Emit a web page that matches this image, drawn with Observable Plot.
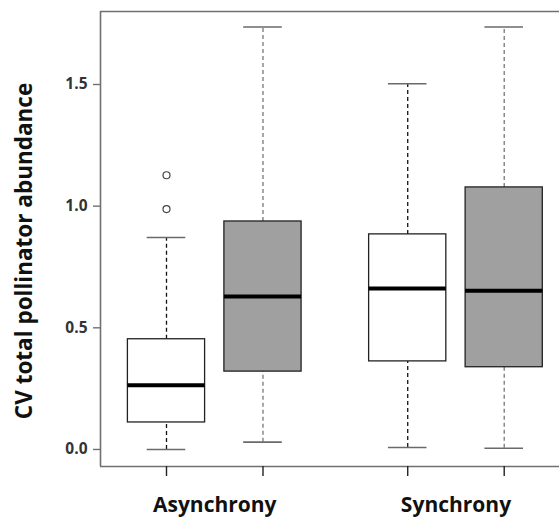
<!DOCTYPE html>
<html>
<head>
<meta charset="utf-8">
<script src="https://cdn.jsdelivr.net/npm/d3@7"></script>
<script src="https://cdn.jsdelivr.net/npm/@observablehq/plot@0.6"></script>
<style>
  html, body { margin: 0; padding: 0; background: #fff; overflow: hidden; }
  #chart svg { display: block; }
</style>
</head>
<body>
<div id="chart"></div>
<script>
// ---- data ----
const groups = ["Asynchrony", "Synchrony"];
const treatments = ["Treatment 1", "Treatment 2"];          // white, grey boxes
const boxGroup     = ["Asynchrony", "Asynchrony", "Synchrony", "Synchrony"];
const boxTreatment = ["Treatment 1", "Treatment 2", "Treatment 1", "Treatment 2"];
const lowerWhisker = [0.000, 0.030, 0.008, 0.005];
const q1           = [0.111, 0.320, 0.362, 0.338];
const median       = [0.264, 0.629, 0.662, 0.652];
const q3           = [0.453, 0.937, 0.884, 1.077];
const upperWhisker = [0.871, 1.736, 1.503, 1.736];
const outlierGroup     = ["Asynchrony", "Asynchrony"];
const outlierTreatment = ["Treatment 1", "Treatment 1"];
const outlierValue     = [0.988, 1.127];
const yTicks = [0, 0.5, 1.0, 1.5];

// ---- derived tables ----
const pos = (g, t) => 1 + groups.indexOf(g) * 2.5 + treatments.indexOf(t);
const boxes = boxGroup.map((g, i) => ({
  group: g, treatment: boxTreatment[i], p: pos(g, boxTreatment[i]),
  lo: lowerWhisker[i], q1: q1[i], med: median[i], q3: q3[i], hi: upperWhisker[i]
}));
const outliers = outlierGroup.map((g, i) => ({ p: pos(g, outlierTreatment[i]), v: outlierValue[i] }));
const groupCenters = groups.map(g => (pos(g, treatments[0]) + pos(g, treatments[1])) / 2);
const fillOf = t => t === treatments[0] ? "#ffffff" : "#a0a0a0";
const whiskerColor = t => t === treatments[0] ? "#111" : "#777";

const xMin = 0.316, xMax = 5.073, yMin = -0.07, yMax = 1.80;
const frameColor = "#707070";

const chart = Plot.plot({
  width: 559,
  height: 521,
  marginTop: 11,
  marginBottom: 55,
  marginLeft: 100,
  marginRight: 0,
  style: { background: "#fff", fontFamily: "'Open Sans', sans-serif" },
  x: { type: "linear", domain: [xMin, xMax], axis: null },
  y: { domain: [yMin, yMax], axis: null },
  marks: [
    // frame (left, top, bottom; right side falls outside the picture)
    Plot.ruleX([xMin], { y1: yMin, y2: yMax, stroke: frameColor, strokeWidth: 1.6 }),
    Plot.ruleY([yMax], { x1: xMin, x2: xMax, stroke: frameColor, strokeWidth: 1.6 }),
    Plot.ruleY([yMin], { x1: xMin, x2: xMax, stroke: frameColor, strokeWidth: 1.6 }),
    // y axis
    Plot.axisY({ ticks: yTicks, tickFormat: d3.format(".1f"), tickSize: 7, tickPadding: 6,
      stroke: frameColor, strokeWidth: 1.4, fill: "#333", fontSize: 15.5, fontWeight: "bold",
      label: null }),
    Plot.text(["CV total pollinator abundance"], {
      frameAnchor: "left", textAnchor: "middle", dx: -76, dy: 12, rotate: -90,
      fontSize: 22.5, fontWeight: "bold", fill: "#111"
    }),
    // x ticks at each box
    Plot.axisX({ ticks: boxes.map(d => d.p), tickFormat: () => "", tickSize: 10,
      stroke: "#222", strokeWidth: 1.4, label: null, anchor: "bottom" }),
    // group labels
    Plot.axisX({ ticks: groupCenters, tickFormat: (d, i) => groups[i], tickSize: 0, tickPadding: 31,
      fontSize: 21, fontWeight: "bold", fill: "#111", label: null, anchor: "bottom" }),
    // whiskers
    Plot.ruleX(boxes, { x: "p", y1: "q3", y2: "hi", stroke: d => whiskerColor(d.treatment), strokeWidth: 1.3, strokeDasharray: "4,3" }),
    Plot.ruleX(boxes, { x: "p", y1: "lo", y2: "q1", stroke: d => whiskerColor(d.treatment), strokeWidth: 1.3, strokeDasharray: "4,3" }),
    // whisker caps
    Plot.ruleY(boxes, { y: "hi", x1: d => d.p - 0.2, x2: d => d.p + 0.2, stroke: "#6a6a6a", strokeWidth: 1.6 }),
    Plot.ruleY(boxes, { y: "lo", x1: d => d.p - 0.2, x2: d => d.p + 0.2, stroke: "#6a6a6a", strokeWidth: 1.6 }),
    // boxes
    Plot.rect(boxes, { x1: d => d.p - 0.4, x2: d => d.p + 0.4, y1: "q1", y2: "q3",
      fill: d => fillOf(d.treatment), stroke: "#222", strokeWidth: 1.3 }),
    // medians
    Plot.ruleY(boxes, { y: "med", x1: d => d.p - 0.4, x2: d => d.p + 0.4, stroke: "#000", strokeWidth: 4 }),
    // outliers
    Plot.dot(outliers, { x: "p", y: "v", r: 3.5, stroke: "#444", strokeWidth: 1.2, fill: "none" })
  ]
});
document.getElementById("chart").append(chart);
</script>
</body>
</html>
